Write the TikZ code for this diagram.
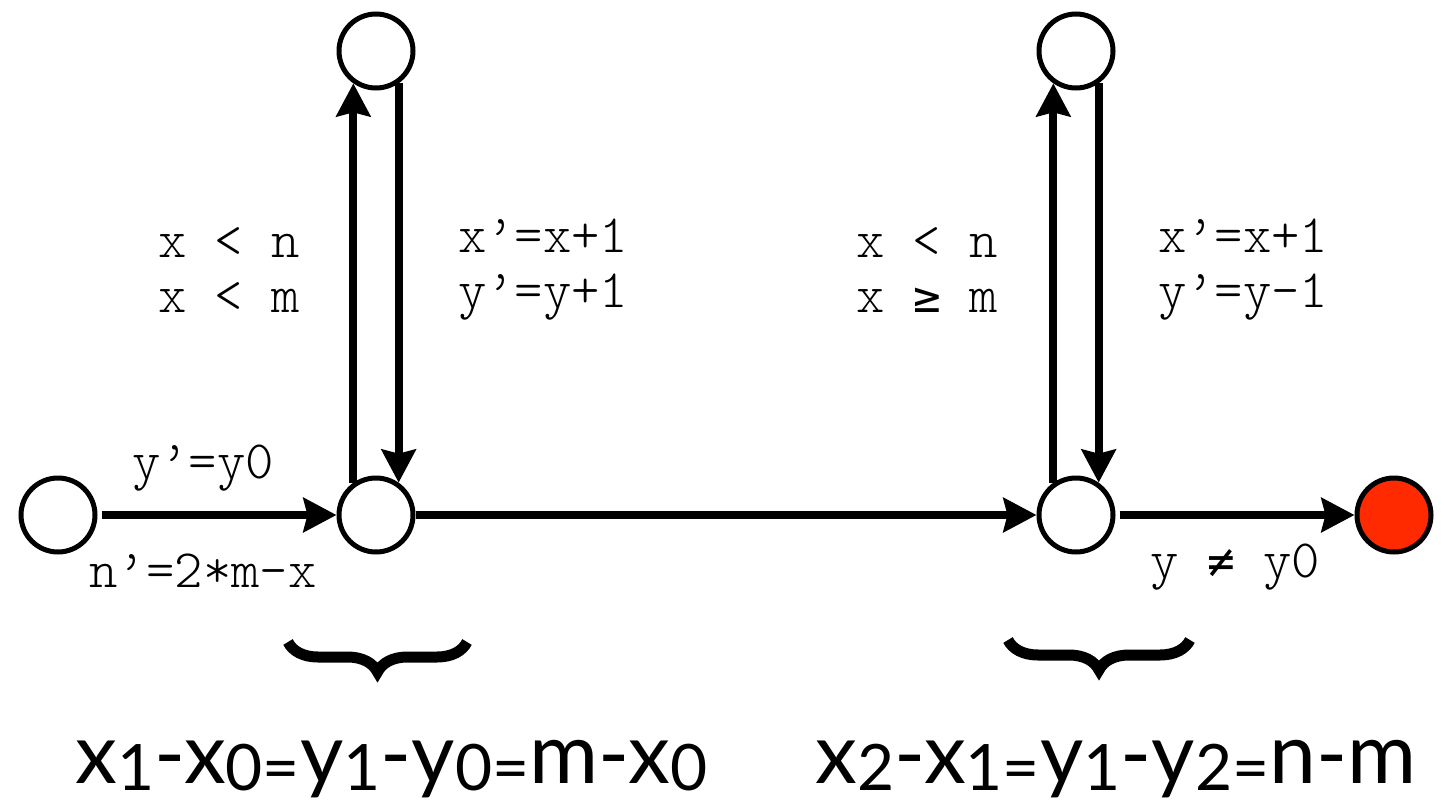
\documentclass[tikz,border=0pt]{standalone}
\usepackage{fontspec}
\newfontfamily\gill{Lato}
\newfontfamily\djm{DejaVu Sans Mono}
\usetikzlibrary{arrows.meta,decorations.pathreplacing}
\definecolor{errred}{HTML}{FF2A00}
\newcommand\sbx[1]{\raisebox{-7pt}{\fontsize{64}{64}\selectfont #1}}
\newcommand\mysym[1]{\makebox[0.525em]{\djm\fontsize{46}{46}\selectfont #1}}
\begin{document}
\begin{tikzpicture}[x=1pt,y=-1pt,
  st/.style={circle,draw,line width=5pt,minimum size=74pt,inner sep=0pt,fill=white},
  arr/.style={line width=8pt,-{Stealth[length=33pt,width=34pt,inset=4pt]}},
  lab/.style={font=\fontsize{54}{55}\ttfamily\fontseries{l}\selectfont,align=left,inner sep=0pt},
  brc/.style={line width=11pt,decorate,decoration={brace,amplitude=30pt}},
  big/.style={font=\gill\fontsize{84}{84}\selectfont,inner sep=0pt,anchor=base west}]
\useasboundingbox (0,0) rectangle (1446,803);
\node[st] (s0) at (58,515) {};
\node[st] (a) at (376,515) {};
\node[st] (ta) at (376,51) {};
\node[st] (b) at (1076,515) {};
\node[st] (tb) at (1076,51) {};
\node[st,fill=errred] (e) at (1394,515) {};
\draw[arr,shorten <=4pt] (s0) -- (a);
\draw[arr] (a) -- (b);
\draw[arr,shorten <=4pt] (b) -- (e);
\draw[arr] (a.125) -- (ta.235);
\draw[arr] (ta.305) -- (a.55);
\draw[arr] (b.125) -- (tb.235);
\draw[arr] (tb.305) -- (b.55);
\node[lab] (l0) at (203,468) {y’=y0};
\node[lab] (l1) at (203,571) {n’=2*m-x};
\node[lab,anchor=west] (l2) at (158,270) {x < n\\x < m};
\node[lab,anchor=west] (l3) at (458,270) {x’=x+1\\y’=y+1};
\node[lab,anchor=west] (l4) at (856,270) {x < n\\x \mysym{≥} m};
\node[lab,anchor=west] (l5) at (1158,270) {x’=x+1\\y’=y-1};
\node[lab,anchor=west] (l6) at (1150,567) {y \mysym{≠} y0};
\draw[brc] (467,642) -- (288,642);
\draw[brc] (1190,640) -- (1008,640);
\node[big] (f1) at (75,783) {x\sbx{1}-x\sbx{0=}y\sbx{1}-y\sbx{0=}m-x\sbx{0}};
\node[big] (f2) at (815,783) {x\sbx{2}-x\sbx{1=}y\sbx{1}-y\sbx{2=}n-m};
\end{tikzpicture}
\end{document}
